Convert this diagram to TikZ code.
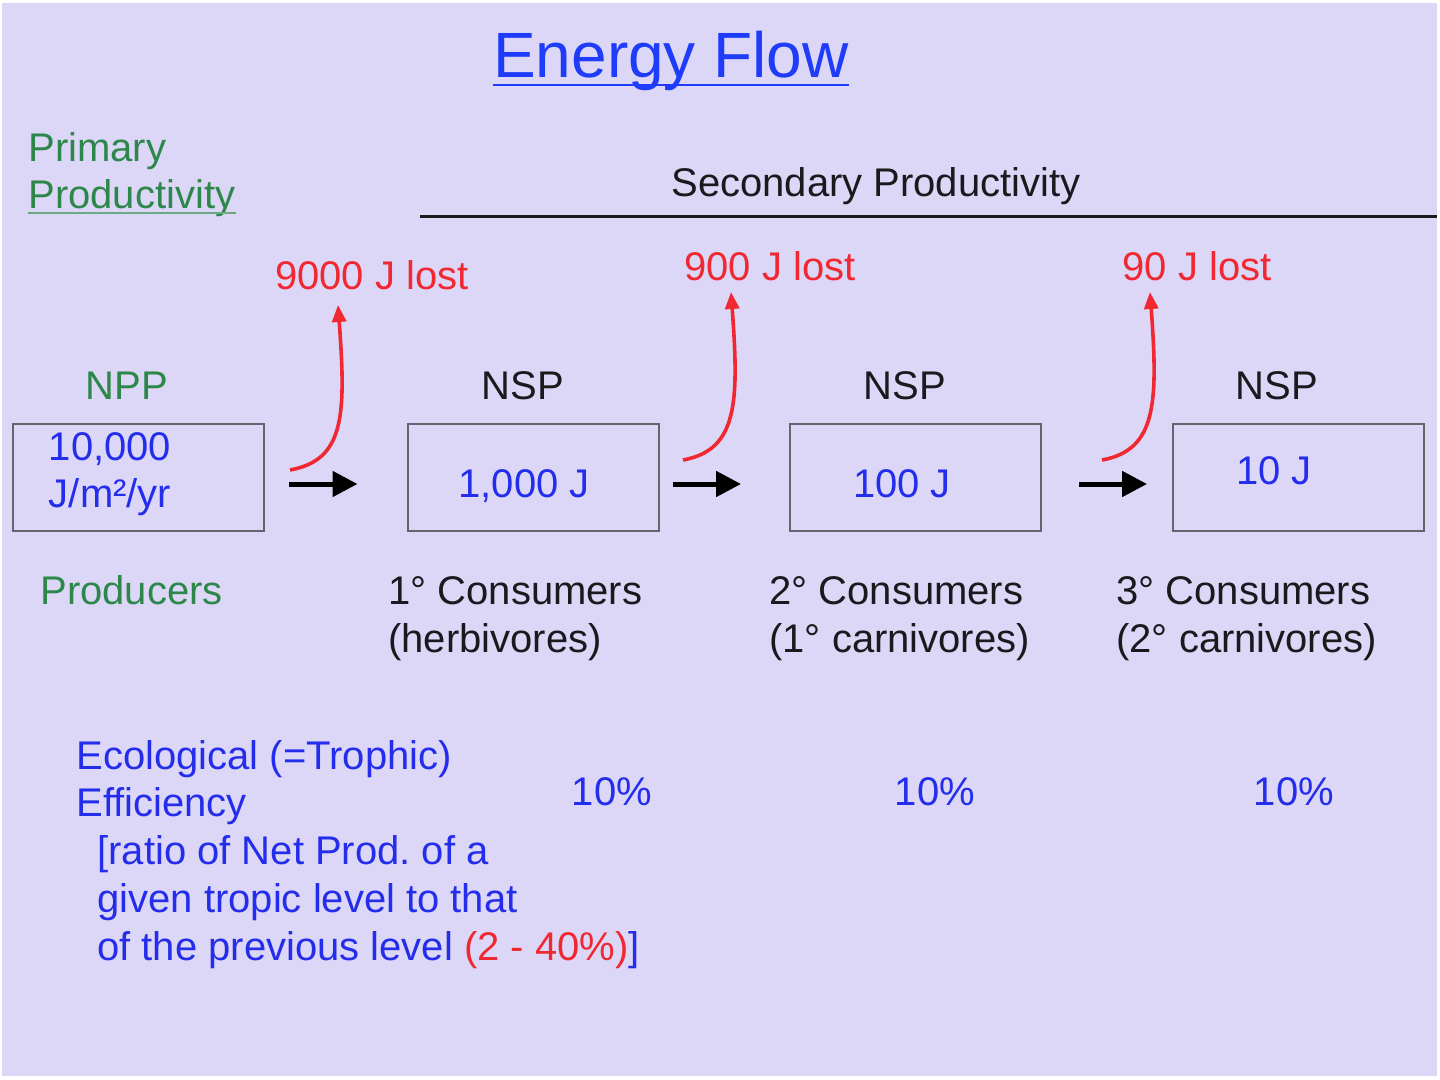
\documentclass[tikz,border=0pt]{standalone}
\usepackage{fontspec}
\setmainfont{Liberation Sans}
\usetikzlibrary{arrows.meta}
\definecolor{bgc}{RGB}{221,215,247}
\definecolor{tblue}{RGB}{30,60,250}
\definecolor{txblue}{RGB}{35,45,235}
\definecolor{tgreen}{RGB}{45,135,75}
\definecolor{tred}{RGB}{240,40,50}
\definecolor{boxc}{RGB}{100,100,110}
\definecolor{dark}{RGB}{25,25,30}
\begin{document}
\frenchspacing
\begin{tikzpicture}[x=0.5pt,y=-0.5pt,
  txt/.style={inner sep=0pt, font=\fontsize{20pt}{24pt}\selectfont, anchor=base west, text=dark},
  ctxt/.style={txt, anchor=base},
  titlestyle/.style={inner sep=0pt, font=\fontsize{32pt}{38pt}\selectfont, anchor=base, text=tblue},
  levelbox/.style={draw=boxc, line width=1pt, minimum width=125.5pt, minimum height=53.5pt, inner sep=0pt},
  flow/.style={line width=2.5pt, -{Triangle[length=12.5pt,width=12.5pt]}},
  loss/.style={draw=tred, line width=1.8pt, -{Triangle[length=8.5pt,width=7pt]}}]
\useasboundingbox (0,0) rectangle (1440,1080);
\fill[white] (0,0) rectangle (1440,1080);
\fill[bgc] (2,3) rectangle (1437,1076);

% title
\node[titlestyle] (title) at (671,78) {Energy Flow};
\draw[tblue, line width=1.2pt] ([yshift=-3.5pt]title.base west) -- ([yshift=-3.5pt]title.base east);

% headers
\node[txt, text=tgreen] (pp1) at (28,162) {Primary};
\node[txt, text=tgreen] (pp2) at (28,209) {Productivity};
\draw[tgreen!70, line width=1pt] ([yshift=-1.8pt]pp2.base west) -- ([yshift=-1.8pt]pp2.base east);
\node[ctxt] (sp) at (876,197) {Secondary Productivity};
\coordinate (spl) at (420,217);
\coordinate (spr) at (1437,217);
\draw[dark, line width=1.5pt] (spl) -- (spr);

% loss labels
\node[ctxt, text=tred] (l1) at (372,290) {9000 J lost};
\node[ctxt, text=tred] (l2) at (770,281) {900 J lost};
\node[ctxt, text=tred] (l3) at (1197,281) {90 J lost};

% level labels
\node[ctxt, text=tgreen] (npp) at (127,400) {NPP};
\node[ctxt] (nsp1) at (523,400) {NSP};
\node[ctxt] (nsp2) at (905,400) {NSP};
\node[ctxt] (nsp3) at (1277,400) {NSP};

% boxes
\node[levelbox] (b1) at (138.5,477.5) {};
\node[levelbox] (b2) at (533,477.5) {};
\node[levelbox] (b3) at (915.5,477.5) {};
\node[levelbox] (b4) at (1298.5,477.5) {};

\node[ctxt, text=txblue] (v1a) at (110,460) {10,000};
\node[ctxt, text=txblue] (v1b) at (110,508) {J/m²/yr};
\node[ctxt, text=txblue] (v2) at (524,497) {1,000 J};
\node[ctxt, text=txblue] (v3) at (902,497) {100 J};
\node[ctxt, text=txblue] (v4) at (1274,484) {10 J};

% flow arrows
\draw[flow, shorten <=12pt, shorten >=24.5pt] ([yshift=-3.25pt]b1.east) -- ([yshift=-3.25pt]b2.west);
\draw[flow, shorten <=6.5pt, shorten >=24pt] ([yshift=-3.25pt]b2.east) -- ([yshift=-3.25pt]b3.west);
\draw[flow, shorten <=18.5pt, shorten >=12.5pt] ([yshift=-3.25pt]b3.east) -- ([yshift=-3.25pt]b4.west);

% loss arrows
\coordinate (r1s) at (290,470);
\coordinate (r1e) at (338,305);
\coordinate (r2s) at (683,460);
\coordinate (r2e) at (731,292);
\coordinate (r3s) at (1102,460);
\coordinate (r3e) at (1150,292);
\draw[loss] (r1s) .. controls +(55,-10) and +(8,110) .. (r1e);
\draw[loss] (r2s) .. controls +(55,-10) and +(8,110) .. (r2e);
\draw[loss] (r3s) .. controls +(55,-10) and +(8,110) .. (r3e);

% trophic level names
\node[txt, text=tgreen] (prod) at (40,604) {Producers};
\node[txt] (c1a) at (388,604) {1° Consumers};
\node[txt] (c1b) at (388,652) {(herbivores)};
\node[txt] (c2a) at (769,604) {2° Consumers};
\node[txt] (c2b) at (769,652) {(1° carnivores)};
\node[txt] (c3a) at (1116,604) {3° Consumers};
\node[txt] (c3b) at (1116,652) {(2° carnivores)};

% efficiency
\node[txt, text=txblue] (e1) at (76,769) {Ecological (=Trophic)};
\node[txt, text=txblue] (e2) at (76,816) {Efficiency};
\node[txt, text=txblue] (e3) at (97,864) {[ratio of Net Prod. of a};
\node[txt, text=txblue] (e4) at (97,912) {given tropic level to that};
\node[txt, text=txblue] (e5) at (97,960) {of the previous level \textcolor{tred}{(2 - 40\%)}]};

\node[ctxt, text=txblue] (p1) at (612,805) {10\%};
\node[ctxt, text=txblue] (p2) at (935,805) {10\%};
\node[ctxt, text=txblue] (p3) at (1294,805) {10\%};
\end{tikzpicture}
\end{document}
